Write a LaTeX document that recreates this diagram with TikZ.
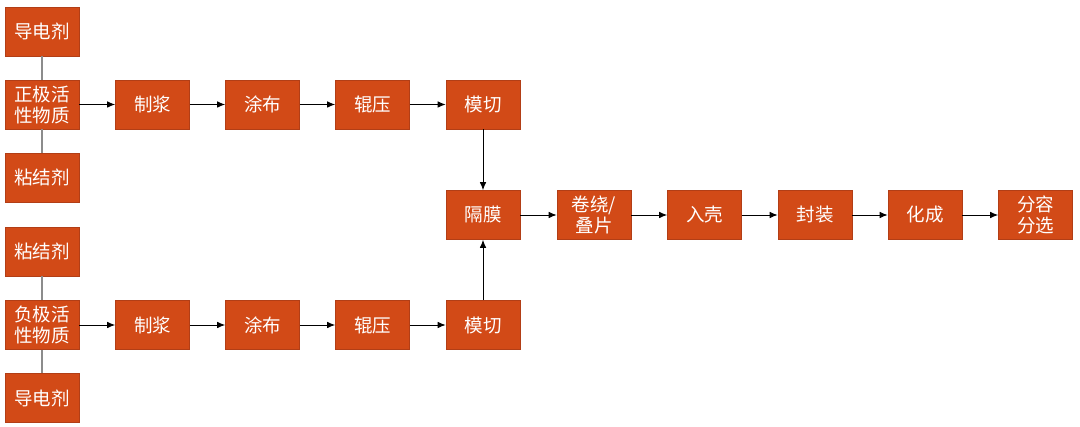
\documentclass[tikz,border=0pt]{standalone}
\usepackage{fontspec}
\newfontfamily\cjk{Noto Sans CJK SC}
\usetikzlibrary{arrows.meta}
\definecolor{boxfill}{RGB}{210,74,23}
\definecolor{boxline}{RGB}{178,62,22}
\tikzset{
  box/.style={draw=boxline, fill=boxfill, minimum width=74pt, minimum height=49pt, inner sep=0pt,
    text=white, font=\cjk\fontsize{18.5}{21}\selectfont, align=center, line width=0.6pt},
  arr/.style={-{Latex[length=8pt,width=6.5pt]}, line width=0.9pt, black},
  gline/.style={draw=black!45, line width=1.2pt}
}
\begin{document}
\begin{tikzpicture}[x=1pt,y=-1pt]
\useasboundingbox (0,0) rectangle (1080,427);
% left column
\node[box] (dd1) at (42,31.5) {导电剂};
\node[box] (zj)  at (42,104.5) {正极活\\性物质};
\node[box] (nj1) at (42,177.5) {粘结剂};
\node[box] (nj2) at (42,251.5) {粘结剂};
\node[box] (fj)  at (42,325) {负极活\\性物质};
\node[box] (dd2) at (42,398) {导电剂};
% top row
\node[box] (zjt) at (152.5,104.5) {制浆};
\node[box] (tbt) at (262.5,104.5) {涂布};
\node[box] (gyt) at (372.5,104.5) {辊压};
\node[box] (mqt) at (483,104.5) {模切};
% bottom row
\node[box] (zjb) at (152.5,325) {制浆};
\node[box] (tbb) at (262.5,325) {涂布};
\node[box] (gyb) at (372.5,325) {辊压};
\node[box] (mqb) at (483,325) {模切};
% middle row
\node[box] (gm) at (483,215) {隔膜};
\node[box] (jr) at (594,215) {卷绕/\\叠片};
\node[box] (rk) at (704.5,215) {入壳};
\node[box] (fz) at (815,215) {封装};
\node[box] (hc) at (925,215) {化成};
\node[box] (fr) at (1035.5,215) {分容\\分选};
% gray links
\draw[gline] (dd1) -- (zj);
\draw[gline] (zj) -- (nj1);
\draw[gline] (nj2) -- (fj);
\draw[gline] (fj) -- (dd2);
% arrows
\draw[arr] (zj) -- (zjt);
\draw[arr] (zjt) -- (tbt);
\draw[arr] (tbt) -- (gyt);
\draw[arr] (gyt) -- (mqt);
\draw[arr] (fj) -- (zjb);
\draw[arr] (zjb) -- (tbb);
\draw[arr] (tbb) -- (gyb);
\draw[arr] (gyb) -- (mqb);
\draw[arr] (mqt) -- (gm);
\draw[arr] (mqb) -- (gm);
\draw[arr] (gm) -- (jr);
\draw[arr] (jr) -- (rk);
\draw[arr] (rk) -- (fz);
\draw[arr] (fz) -- (hc);
\draw[arr] (hc) -- (fr);
\end{tikzpicture}
\end{document}
